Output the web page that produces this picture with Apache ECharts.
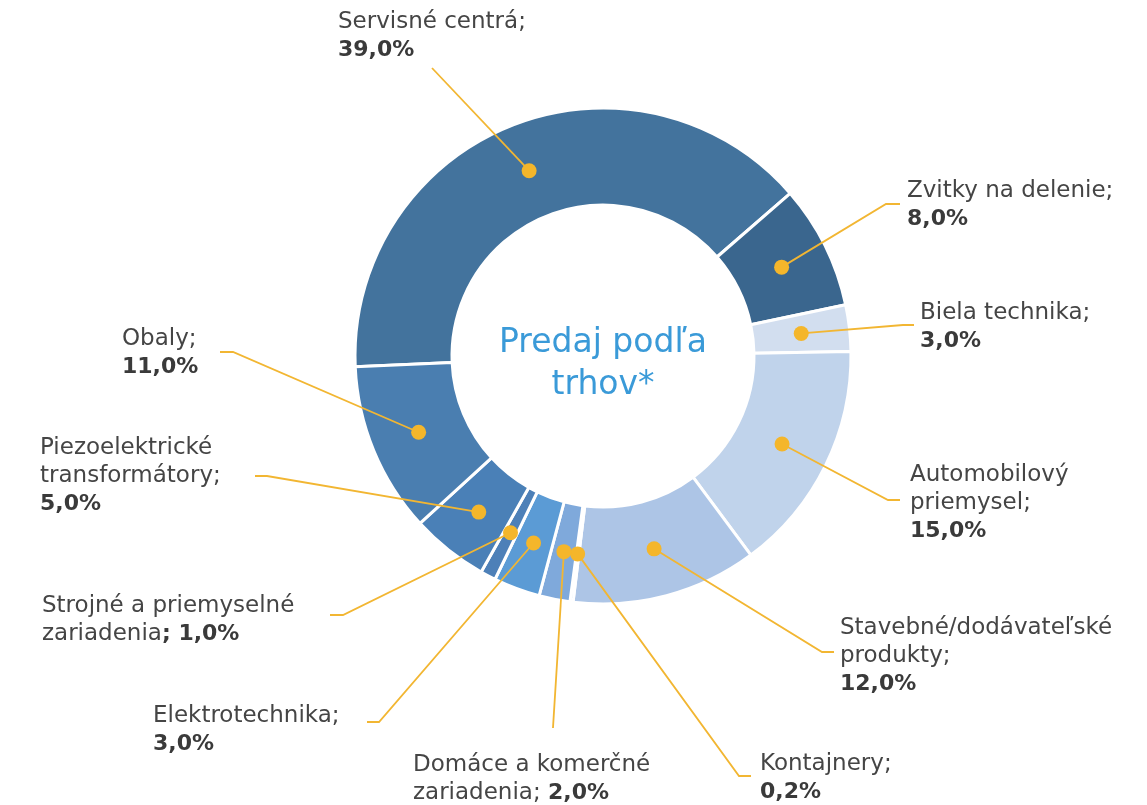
<!DOCTYPE html>
<html>
<head>
<meta charset="utf-8">
<script src="https://cdn.jsdelivr.net/npm/echarts@6/dist/echarts.min.js"></script>
<style>
  html, body { margin: 0; background: #fff; }
  #chart { width: 1147px; height: 805px; }
</style>
</head>
<body>
<div id="chart"></div>
<script>
const categories = [
  "Servisné centrá", "Zvitky na delenie", "Biela technika", "Automobilový priemysel",
  "Stavebné/dodávateľské produkty", "Kontajnery", "Domáce a komerčné zariadenia",
  "Elektrotechnika", "Strojné a priemyselné zariadenia", "Piezoelektrické transformátory", "Obaly",
];
const shares = [39.0, 8.0, 3.0, 15.0, 12.0, 0.2, 2.0, 3.0, 1.0, 5.0, 11.0];
const colors = [
  "#43739d", "#3a668e", "#d2deef", "#c0d3eb", "#adc5e6", "#95b5de",
  "#7fa9db", "#5b9bd5", "#4d80b8", "#4a80b7", "#4a7eb0",
];
// how the names wrap in the picture
const labelNames = [
  "Servisné centrá;", "Zvitky na delenie;", "Biela technika;", "Automobilový\npriemysel;",
  "Stavebné/dodávateľské\nprodukty;", "Kontajnery;", "Domáce a komerčné\nzariadenia; ",
  "Elektrotechnika;", "Strojné a priemyselné\nzariadenia", "Piezoelektrické\ntransformátory;", "Obaly;",
];

const center = [603, 356];
const radius = [151, 248];
const startAngle = 182.5;

// label box [x, top], then elbow and end of the leader line
const labelPos = [
  [338, 8, 432, 68, 432, 68],
  [907, 177, 886, 204, 900, 204],
  [920, 299, 903, 325, 914, 325],
  [910, 461, 888, 500, 900, 500],
  [840, 614, 822, 652, 834, 652],
  [760, 750, 739, 776, 751, 776],
  [413, 751, 553, 728, 553, 728],
  [153, 702, 379, 722, 367, 722],
  [42, 592, 343, 615, 330, 615],
  [40, 434, 267, 476, 255, 476],
  [122, 325, 233, 352, 220, 352],
];

const total = shares.reduce((a, b) => a + b, 0);
const midValues = [];
let acc = 0;
shares.forEach((v) => {
  midValues.push(acc + v / 2);
  acc += v;
});
const midAngles = midValues.map((m) => startAngle - (m / total) * 360);
const ringMid = (radius[0] + radius[1]) / 2;

function pct(v) {
  return v.toFixed(1).replace(".", ",") + "%";
}

function labelText(i) {
  const name = labelNames[i];
  if (i === 8) return name + "{b|; " + pct(shares[i]) + "}";
  if (i === 6) return name + "{b|" + pct(shares[i]) + "}";
  return name + "\n{b|" + pct(shares[i]) + "}";
}

const font = "DejaVu Sans";
const pieBase = {
  type: "pie",
  center: center,
  radius: radius,
  startAngle: startAngle,
  clockwise: true,
  silent: true,
  avoidLabelOverlap: false,
};

const chart = echarts.init(document.getElementById("chart"));
chart.setOption({
  animation: false,
  polar: { center: center, radius: radius[1] },
  angleAxis: { type: "value", min: 0, max: total, startAngle: startAngle, clockwise: true, show: false },
  radiusAxis: { type: "value", min: 0, max: radius[1], show: false },
  graphic: [
    {
      type: "text",
      x: 603,
      y: 364,
      style: {
        text: "Predaj podľa\ntrhov*",
        align: "center",
        verticalAlign: "middle",
        fontFamily: font,
        fontSize: 33,
        lineHeight: 42,
        fill: "#3a9ad8",
      },
    },
  ],
  series: [
    {
      ...pieBase,
      z: 2,
      itemStyle: { borderColor: "#fff", borderWidth: 3 },
      label: { show: false },
      labelLine: { show: false },
      data: categories.map((name, i) => ({ name, value: shares[i], itemStyle: { color: colors[i] } })),
    },
    {
      // labels and leader lines, drawn over the ring
      ...pieBase,
      z: 4,
      itemStyle: { color: "rgba(0,0,0,0)", borderWidth: 0 },
      label: {
        show: true,
        position: "outside",
        formatter: (p) => labelText(p.dataIndex),
        fontFamily: font,
        fontSize: 23,
        lineHeight: 28,
        color: "#454545",
        rich: {
          b: { fontFamily: font, fontSize: 22, lineHeight: 28, fontWeight: "bold", color: "#3a3a3a" },
        },
      },
      labelLine: { show: true, lineStyle: { color: "#f2b632", width: 1.8 } },
      labelLayout: (params) => {
        const i = params.dataIndex;
        const p = labelPos[i];
        const a = (midAngles[i] * Math.PI) / 180;
        const dot = [center[0] + ringMid * Math.cos(a), center[1] - ringMid * Math.sin(a)];
        return {
          x: p[0],
          y: p[1],
          align: "left",
          verticalAlign: "top",
          labelLinePoints: [dot, [p[2], p[3]], [p[4], p[5]]],
        };
      },
      data: categories.map((name, i) => ({ name, value: shares[i] })),
    },
    {
      // yellow dots in the middle of each ring segment
      type: "scatter",
      coordinateSystem: "polar",
      z: 6,
      silent: true,
      symbol: "circle",
      symbolSize: 15,
      itemStyle: { color: "#f4b62b", opacity: 1 },
      data: midValues.map((m) => [ringMid, m]),
    },
  ],
});
</script>
</body>
</html>
